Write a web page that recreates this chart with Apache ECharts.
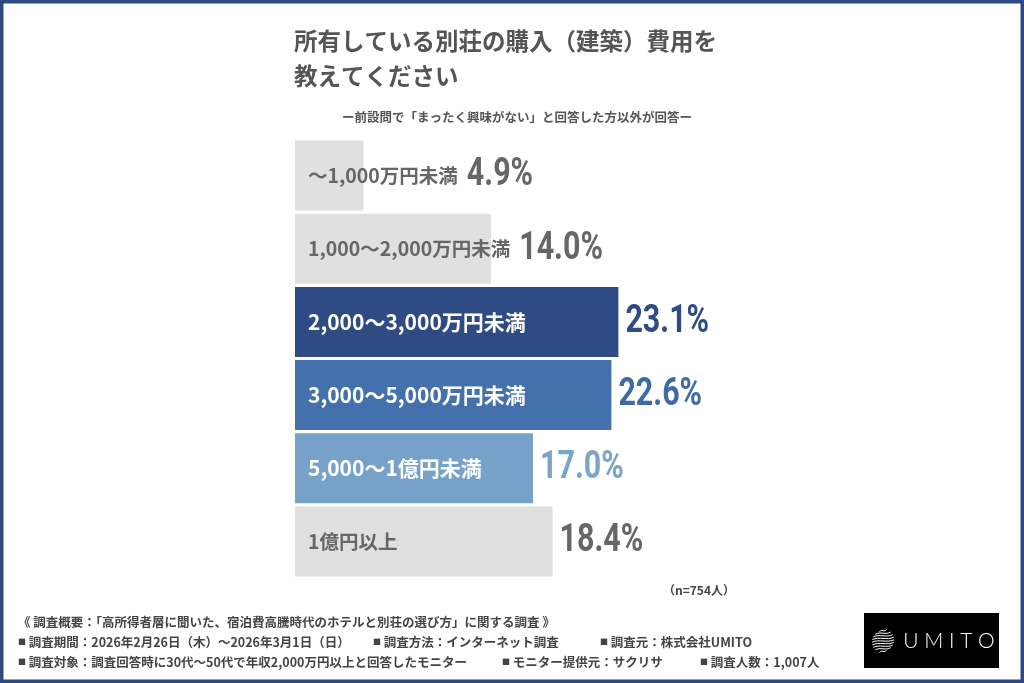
<!DOCTYPE html>
<html><head><meta charset="utf-8">
<script src="https://cdn.jsdelivr.net/npm/echarts@6/dist/echarts.min.js"></script>
<style>html,body{margin:0;padding:0;background:#fff}#c{width:1024px;height:683px}</style>
</head><body><div id="c"></div>
<script>
// ---- data ----
const categories = ['～1,000万円未満','1,000～2,000万円未満','2,000～3,000万円未満','3,000～5,000万円未満','5,000～1億円未満','1億円以上'];
const values = [4.9, 14.0, 23.1, 22.6, 17.0, 18.4];
const highlighted = [false, false, true, true, true, false];
const titleText = '所有している別荘の購入（建築）費用を\n教えてください';
const subtitleText = 'ー前設問で「まったく興味がない」と回答した方以外が回答ー';
const sampleText = '（n=754人）';
const footerTitle = '《 調査概要：「高所得者層に聞いた、宿泊費高騰時代のホテルと別荘の選び方」に関する調査 》';
const footerRow1 = ['調査期間：2026年2月26日（木）～2026年3月1日（日）','調査方法：インターネット調査','調査元：株式会社UMITO'];
const footerRow2 = ['調査対象：調査回答時に30代～50代で年収2,000万円以上と回答したモニター','モニター提供元：サクリサ','調査人数：1,007人'];
const logoText = 'U M I T O';

// ---- styles ----
const barColors = ['#e0e0e0','#e0e0e0','#2f4b83','#4471ab','#76a2c9','#e0e0e0'];
const valueColors = ['#666666','#666666','#2f4b83','#3e6aa6','#7aa5cb','#666666'];
const JP = '"Noto Sans CJK JP", "Noto Sans", sans-serif';
const CAT_PAD = 13, GAP = 7;
const catSize = i => highlighted[i] ? 21 : 19.5;

const chart = echarts.init(document.getElementById('c'), null, {renderer:'canvas'});

function footerItem(txt, x, y){
  return {type:'text', x, y, style:{text:'{sq|■} ' + txt, font:'bold 12.5px ' + JP, fill:'#444', verticalAlign:'middle',
    rich:{sq:{fontSize:8, fill:'#444', fontFamily:JP}}}};
}

function logoWaves(){
  const cx = 883, cy = 641, r = 11;
  const els = [];
  for (let k = -4; k <= 4; k++) {
    const y = cy + k * 2.6;
    const half = Math.sqrt(Math.max(0, r*r - (k*2.6)*(k*2.6)));
    if (half < 2) continue;
    els.push({type:'bezierCurve', shape:{x1:cx-half, y1:y+1.2, x2:cx+half, y2:y-1.2,
      cpx1:cx-half/3, cpy1:y-2.2, cpx2:cx+half/3, cpy2:y+2.2},
      style:{stroke:'#fff', lineWidth:1, fill:null}});
  }
  return els;
}

function build(valueLabels){
  return {
    backgroundColor:'#ffffff',
    animation:false,
    title:{text:titleText, left:294, top:24, padding:0,
      textStyle:{fontFamily:JP, fontSize:23.5, fontWeight:'bold', color:'#555', lineHeight:35}},
    grid:{left:295, top:139, width:700, height:439, containLabel:false},
    xAxis:{type:'value', min:0, max:50, show:false},
    yAxis:{type:'category', data:categories, inverse:true, show:false},
    series:[
      {type:'bar', silent:true, barWidth:70,
        data: values.map((v,i)=>({value:v, itemStyle:{color:barColors[i]},
          label:{show:true, position:'insideLeft', distance:CAT_PAD, formatter:'{b}',
            fontFamily:JP, fontWeight:'bold', fontSize:catSize(i), color: highlighted[i] ? '#fff' : '#666'}}))}
    ],
    graphic:[
      {type:'rect', shape:{x:0,y:0,width:1024,height:683}, style:{fill:null, stroke:'#2c4a80', lineWidth:7}, z:100},
      {type:'text', x:517, y:117, style:{text:subtitleText, font:'bold 12.5px '+JP, fill:'#555', align:'center', verticalAlign:'middle'}},
      {type:'text', x:663, y:590, style:{text:sampleText, font:'bold 12px '+JP, fill:'#444', verticalAlign:'middle'}},
      {type:'text', x:18, y:622, style:{text:footerTitle, font:'bold 12.5px '+JP, fill:'#444', verticalAlign:'middle'}},
      footerItem(footerRow1[0], 18, 642),
      footerItem(footerRow1[1], 373, 642),
      footerItem(footerRow1[2], 600, 642),
      footerItem(footerRow2[0], 18, 662),
      footerItem(footerRow2[1], 502, 662),
      footerItem(footerRow2[2], 700, 662),
      {type:'rect', shape:{x:864,y:613,width:135,height:55}, style:{fill:'#000'}},
      {type:'group', children: logoWaves()},
      {type:'text', x:949, y:641, style:{text:logoText, font:'300 21px Lato, "Open Sans", sans-serif', fill:'#fff', align:'center', verticalAlign:'middle'}}
    ].concat(valueLabels)
  };
}

chart.setOption(build([]));
const ctx = document.createElement('canvas').getContext('2d');
const valueLabels = values.map((v,i)=>{
  const x0 = chart.convertToPixel({xAxisIndex:0}, 0);
  const xEnd = chart.convertToPixel({xAxisIndex:0}, v);
  const yc = chart.convertToPixel({yAxisIndex:0}, categories[i]);
  ctx.font = 'bold ' + catSize(i) + 'px ' + JP;
  const catEnd = x0 + CAT_PAD + ctx.measureText(categories[i]).width;
  const anchor = (catEnd + 2 > xEnd ? catEnd + 2 : xEnd) + GAP;
  return {type:'text', x:anchor, y:yc, scaleX:0.78, z:50,
    style:{text:v.toFixed(1) + '%', font:'bold 39px Roboto, sans-serif', fill:valueColors[i], verticalAlign:'middle'}};
});
chart.setOption(build(valueLabels), true);
</script></body></html>
